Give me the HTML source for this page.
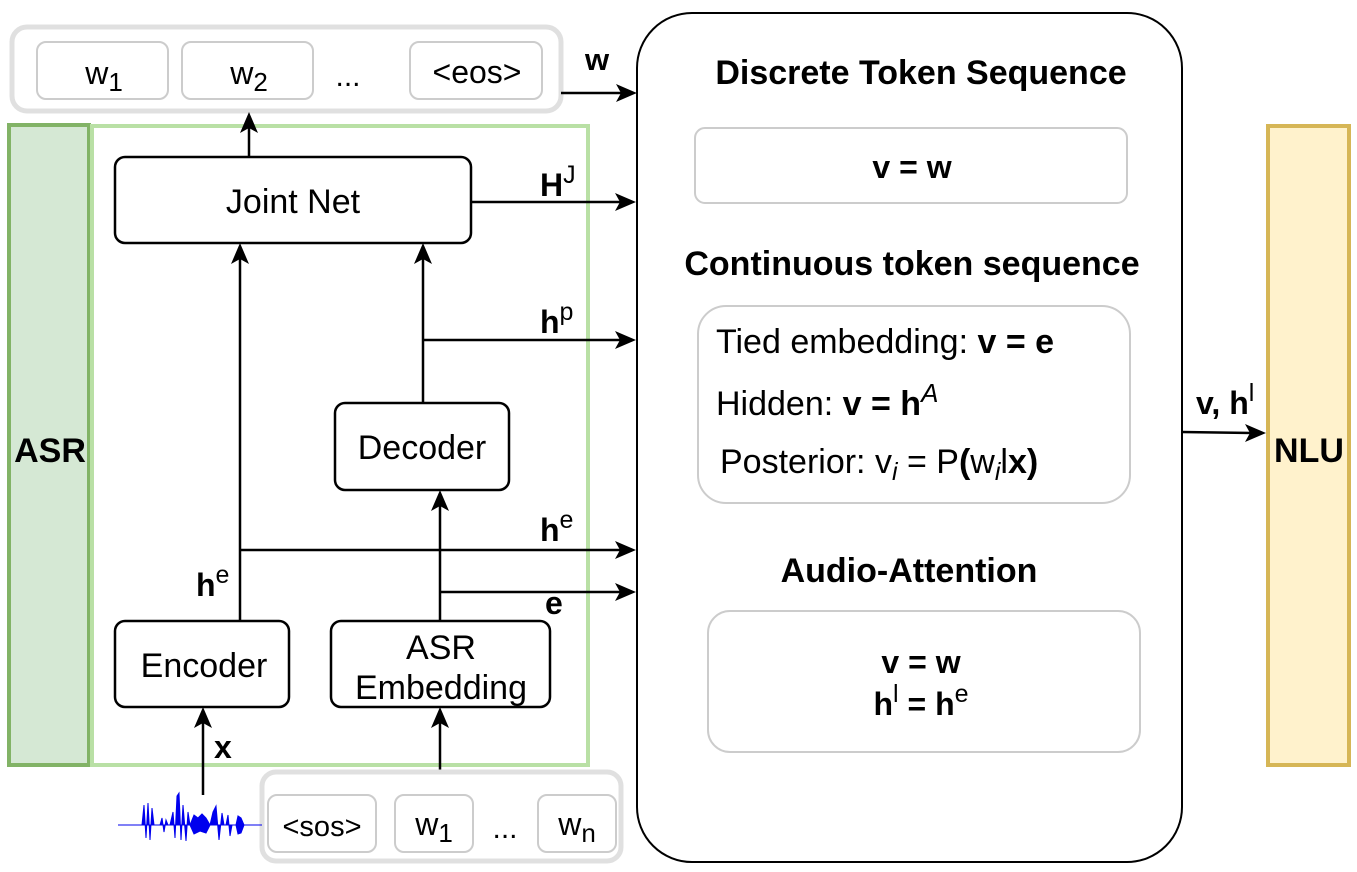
<!DOCTYPE html>
<html><head><meta charset="utf-8"><style>
html,body{margin:0;padding:0;background:#fff;}
svg{display:block;font-family:"Liberation Sans",Arial,sans-serif;}
</style></head><body>
<svg width="1357" height="872" viewBox="0 0 1357 872" xmlns="http://www.w3.org/2000/svg">
<rect x="12" y="27" width="549" height="84" rx="15" fill="#fff" stroke="#e0e0e0" stroke-width="5"/>
<rect x="37" y="42" width="131" height="57" rx="9" fill="#fff" stroke="#cccccc" stroke-width="2"/>
<rect x="182" y="42" width="131" height="57" rx="9" fill="#fff" stroke="#cccccc" stroke-width="2"/>
<rect x="410" y="42" width="132" height="57" rx="9" fill="#fff" stroke="#cccccc" stroke-width="2"/>
<text x="104" y="84" font-size="32" text-anchor="middle">w<tspan font-size="26" dy="7">1</tspan></text>
<text x="249" y="84" font-size="32" text-anchor="middle">w<tspan font-size="26" dy="7">2</tspan></text>
<text x="348" y="86" font-size="30" text-anchor="middle">...</text>
<text x="477" y="83" font-size="32" text-anchor="middle">&lt;eos&gt;</text>
<text x="597" y="70" font-size="31" font-weight="bold" text-anchor="middle">w</text>

<rect x="9" y="125" width="80" height="640" fill="#d5e8d4" stroke="#82b366" stroke-width="4"/>
<text x="50" y="462" font-size="34" font-weight="bold" text-anchor="middle">ASR</text>
<rect x="92" y="126" width="496" height="639" fill="#fff" stroke="#b9e0a5" stroke-width="4"/>

<rect x="637" y="13" width="545" height="849" rx="55" fill="#fff" stroke="#000" stroke-width="2"/>

<rect x="1268" y="126" width="81" height="639" fill="#fff2cc" stroke="#d6b656" stroke-width="4"/>
<text x="1309" y="462" font-size="34" font-weight="bold" text-anchor="middle">NLU</text>

<g stroke="#000" stroke-width="2.5" fill="none">
<line x1="561" y1="93" x2="622" y2="93"/>
<line x1="249" y1="157" x2="249" y2="128"/>
<line x1="471" y1="202" x2="622" y2="202"/>
<line x1="240" y1="621" x2="240" y2="258"/>
<line x1="423" y1="403" x2="423" y2="258"/>
<line x1="423" y1="340" x2="622" y2="340"/>
<line x1="240" y1="550" x2="622" y2="550"/>
<line x1="440" y1="621" x2="440" y2="505"/>
<line x1="440" y1="592" x2="622" y2="592"/>
<line x1="203" y1="795" x2="203" y2="722"/>
<line x1="440" y1="772" x2="440" y2="722"/>
<line x1="1182" y1="432" x2="1252" y2="433"/>
</g>
<g fill="#000">
<polygon points="637,93 616,84 621,93 616,102"/>
<polygon points="249,112 240,133 249,128 258,133"/>
<polygon points="636,202 615,193 620,202 615,211"/>
<polygon points="240,243 231,264 240,259 249,264"/>
<polygon points="423,243 414,264 423,259 432,264"/>
<polygon points="636,340 615,331 620,340 615,349"/>
<polygon points="636,550 615,541 620,550 615,559"/>
<polygon points="440,490 431,511 440,506 449,511"/>
<polygon points="636,592 615,583 620,592 615,601"/>
<polygon points="203,707 194,728 203,723 212,728"/>
<polygon points="440,707 431,728 440,723 449,728"/>
<polygon points="1266,433 1245,424 1250,433 1245,442"/>
</g>

<g fill="#fff" stroke="#000" stroke-width="2.5">
<rect x="115" y="157" width="356" height="86" rx="10"/>
<rect x="335" y="403" width="174" height="87" rx="10"/>
<rect x="115" y="621" width="174" height="86" rx="10"/>
<rect x="331" y="621" width="219" height="86" rx="10"/>
</g>
<text x="293" y="213" font-size="34" text-anchor="middle">Joint Net</text>
<text x="422" y="459" font-size="34" text-anchor="middle">Decoder</text>
<text x="204" y="677" font-size="34" text-anchor="middle">Encoder</text>
<text x="441" y="659" font-size="34" text-anchor="middle">ASR</text>
<text x="441" y="699" font-size="34" text-anchor="middle">Embedding</text>

<text x="540" y="196" font-size="32" font-weight="bold">H<tspan font-weight="normal" font-size="25" dy="-13">J</tspan></text>
<text x="540" y="333" font-size="32" font-weight="bold">h<tspan font-weight="normal" font-size="25" dy="-13">p</tspan></text>
<text x="540" y="541" font-size="32" font-weight="bold">h<tspan font-weight="normal" font-size="25" dy="-13">e</tspan></text>
<text x="196" y="596" font-size="32" font-weight="bold">h<tspan font-weight="normal" font-size="25" dy="-13">e</tspan></text>
<text x="545" y="614" font-size="32" font-weight="bold">e</text>
<text x="214" y="758" font-size="32" font-weight="bold">x</text>
<text x="1196" y="414" font-size="32" font-weight="bold">v, h<tspan font-weight="normal" font-size="25" dy="-13">l</tspan></text>

<rect x="262" y="772" width="359" height="89" rx="14" fill="#fff" stroke="#e0e0e0" stroke-width="5"/>
<rect x="268" y="795" width="108" height="57" rx="9" fill="#fff" stroke="#cccccc" stroke-width="2"/>
<rect x="395" y="795" width="78" height="57" rx="9" fill="#fff" stroke="#cccccc" stroke-width="2"/>
<rect x="538" y="795" width="78" height="57" rx="9" fill="#fff" stroke="#cccccc" stroke-width="2"/>
<text x="322" y="836" font-size="29" text-anchor="middle">&lt;sos&gt;</text>
<text x="434" y="835" font-size="32" text-anchor="middle">w<tspan font-size="26" dy="7">1</tspan></text>
<text x="505" y="838" font-size="30" text-anchor="middle">...</text>
<text x="577" y="835" font-size="32" text-anchor="middle">w<tspan font-size="26" dy="7">n</tspan></text>

<g fill="#0000ee" stroke="#0000ee" stroke-width="1">
<line x1="118" y1="825" x2="262" y2="825"/>
<polygon points="142,825 144,805 146,838 148,803 150,840 152,808 154,825"/>
<polygon points="160,825 162,818 164,832 166,820 168,825"/>
<polygon points="170,825 173,812 175,838 177,796 179,793 181,840 183,805 186,841 188,812 190,825"/>
<polygon points="190,825 194,815 198,818 202,814 206,818 210,825 206,833 200,831 194,834"/>
<polygon points="210,825 213,812 216,806 219,840 222,813 224,825"/>
<polygon points="226,825 228,815 230,836 232,825"/>
<polygon points="236,825 238,816 241,818 244,825 241,833 238,834"/>
</g>

<text x="921" y="84" font-size="34" font-weight="bold" text-anchor="middle">Discrete Token Sequence</text>
<rect x="695" y="128" width="432" height="75" rx="10" fill="#fff" stroke="#cccccc" stroke-width="2"/>
<text x="912" y="178" font-size="32" font-weight="bold" text-anchor="middle">v = w</text>
<text x="912" y="275" font-size="34" font-weight="bold" text-anchor="middle">Continuous token sequence</text>
<rect x="698" y="306" width="432" height="197" rx="28" fill="#fff" stroke="#cccccc" stroke-width="2"/>
<text x="716" y="353" font-size="34">Tied embedding: <tspan font-weight="bold">v = e</tspan></text>
<text x="716" y="415" font-size="34">Hidden: <tspan font-weight="bold">v = h</tspan><tspan font-style="italic" font-size="26" dy="-13">A</tspan></text>
<text x="720" y="473" font-size="34">Posterior:  v<tspan font-style="italic" font-size="25" dy="7">i</tspan><tspan dy="-7"> = P</tspan><tspan font-weight="bold">(</tspan>w<tspan font-style="italic" font-size="25" dy="7">i</tspan><tspan dy="-7">l</tspan><tspan font-weight="bold">x)</tspan></text>
<text x="909" y="582" font-size="34" font-weight="bold" text-anchor="middle">Audio-Attention</text>
<rect x="708" y="611" width="432" height="141" rx="22" fill="#fff" stroke="#cccccc" stroke-width="2"/>
<text x="921" y="673" font-size="32" font-weight="bold" text-anchor="middle">v = w</text>
<text x="921" y="715" font-size="32" font-weight="bold" text-anchor="middle">h<tspan font-weight="normal" font-size="25" dy="-13">l</tspan><tspan dy="13"> = h</tspan><tspan font-weight="normal" font-size="25" dy="-13">e</tspan></text>
</svg>
</body></html>
